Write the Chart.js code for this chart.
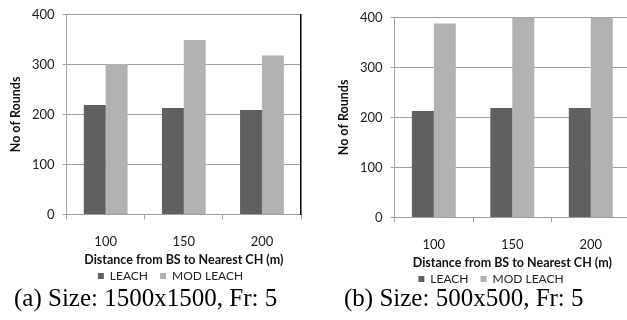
<!DOCTYPE html>
<html>
<head>
<meta charset="utf-8">
<script src="https://cdn.jsdelivr.net/npm/chart.js@4.4.1/dist/chart.umd.min.js"></script>
<style>
  html, body { margin: 0; padding: 0; background: #fff; overflow: hidden; }
  body { width: 627px; height: 320px; position: relative; }
  .box { position: absolute; top: 0; height: 292px; }
  .cap { position: absolute; top: 284px; font-family: "Liberation Serif", "DejaVu Serif", serif; font-size: 25px; color: #000; white-space: nowrap; }
</style>
</head>
<body>
<div class="box" style="left:0;width:333px"><canvas id="chartA"></canvas></div>
<div class="box" style="left:310px;top:3px;width:336px"><canvas id="chartB"></canvas></div>
<div class="cap" style="left:14px">(a) Size: 1500x1500, Fr: 5</div>
<div class="cap" style="left:344px">(b) Size: 500x500, Fr: 5</div>
<script>
// categories (distance BS -> nearest CH)
const distances = ['100', '150', '200'];
const seriesNames = ['LEACH', 'MOD LEACH'];

// (a) 1500x1500
const leachA = [219, 213, 209];
const modLeachA = [301, 349, 318];

// (b) 500x500
const leachB = [213, 219, 219];
const modLeachB = [388, 400, 400];

const yTicks = [0, 100, 200, 300, 400];

const grisFonce = '#606060';
const grisClair = '#b2b2b2';
const grille = '#a0a0a0';
const police = 'Lato, "Open Sans", sans-serif';

// Construit la config d'un graphe
// padLeft : marge a gauche, rightWidth : place laissee a droite du cadre
function makeConfig(leach, modLeach, padLeft, rightWidth, borderColor) {
    return {
        type: 'bar',
        data: {
            labels: distances,
            datasets: [
                { label: seriesNames[0], data: leach, backgroundColor: grisFonce },
                { label: seriesNames[1], data: modLeach, backgroundColor: grisClair }
            ]
        },
        options: {
            responsive: true,
            maintainAspectRatio: false,
            animation: false,
            categoryPercentage: 0.56,
            barPercentage: 1.0,
            layout: { padding: { top: 0, left: padLeft, right: 0, bottom: 0 } },
            plugins: {
                legend: {
                    position: 'bottom',
                    labels: {
                        boxWidth: 6, boxHeight: 6, padding: 12,
                        color: '#222',
                        font: { family: police, size: 12 }
                    }
                },
                tooltip: { enabled: false }
            },
            scales: {
                x: {
                    offset: true,
                    grid: {
                        offset: true,
                        drawOnChartArea: false,
                        color: grille,
                        tickLength: 5
                    },
                    border: { color: grille },
                    ticks: { color: '#1a1a1a', padding: 15, font: { family: police, size: 13 } },
                    title: {
                        display: true, text: 'Distance from BS to Nearest CH (m)', color: '#111',
                        padding: { top: -13, bottom: -9 },
                        font: { family: police, size: 12.5, weight: 'bold' }
                    }
                },
                y: {
                    min: 0, max: 400,
                    afterBuildTicks: function (axis) { axis.ticks = yTicks.map(v => ({ value: v })); },
                    grid: { color: grille, tickColor: grille, tickLength: 4 },
                    border: { color: grille },
                    ticks: { color: '#1a1a1a', padding: 8, font: { family: police, size: 13, lineHeight: 1 } },
                    title: {
                        display: true, text: 'No of Rounds', color: '#111',
                        padding: { top: 0, bottom: 1 },
                        font: { family: police, size: 12.5, weight: 'bold' }
                    }
                },
                // axe fantome a droite : sert de cadre noir et garde la place a droite
                cadre: {
                    position: 'right',
                    min: 0, max: 400,
                    grid: { drawOnChartArea: false, drawTicks: false },
                    border: { color: borderColor, width: 1.5 },
                    ticks: { display: false },
                    afterFit: function (axis) { axis.width = rightWidth; }
                }
            }
        }
    };
}

new Chart(document.getElementById('chartA'), makeConfig(leachA, modLeachA, 8, 32, '#000'));
new Chart(document.getElementById('chartB'), makeConfig(leachB, modLeachB, 26, 16, 'rgba(0,0,0,0)'));
</script>
</body>
</html>
